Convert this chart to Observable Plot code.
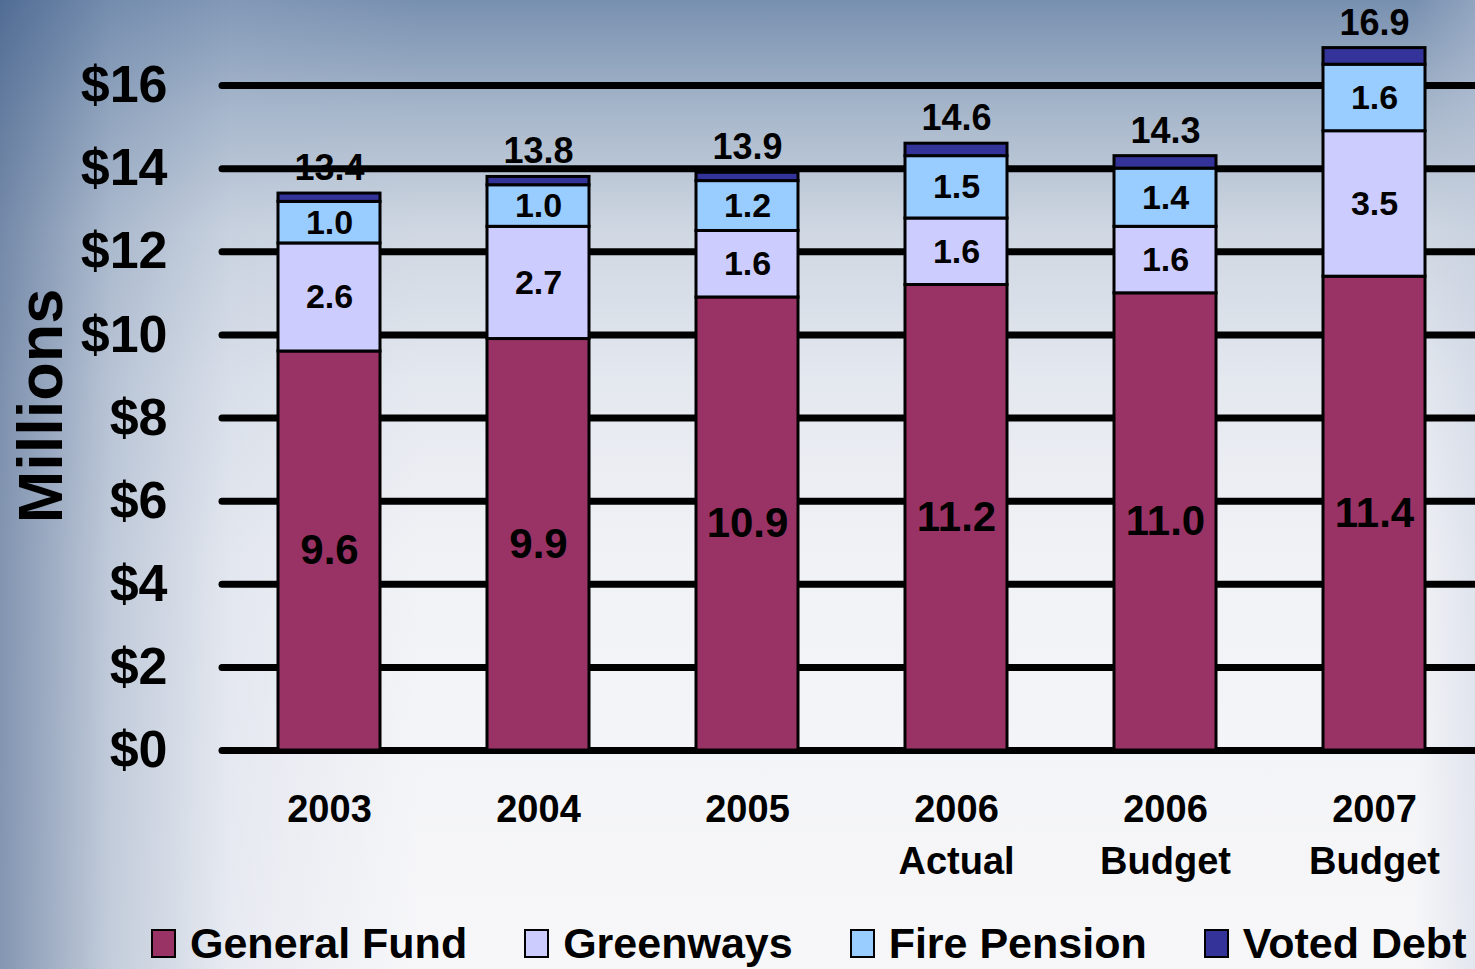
<!DOCTYPE html>
<html>
<head>
<meta charset="utf-8">
<script src="https://cdn.jsdelivr.net/npm/d3@7"></script>
<script src="https://cdn.jsdelivr.net/npm/@observablehq/plot@0.6"></script>
<style>
  html, body { margin: 0; padding: 0; }
  body {
    position: relative;
    width: 1475px; height: 969px; overflow: hidden;
    font-family: "Liberation Sans", Arial, sans-serif; font-weight: bold;
    background:
      linear-gradient(to right, rgba(55,85,130,0.6) 0px, rgba(110,135,170,0.38) 110px, rgba(170,185,210,0.2) 230px, rgba(255,255,255,0) 420px),
      linear-gradient(to left, rgba(190,200,220,0.35) 0px, rgba(255,255,255,0) 60px),
      linear-gradient(to bottom, #7890b0 0px, #a6b6ca 110px, #cfd7e2 230px, #e4e8ef 380px, #f1f2f6 560px, #f7f7f9 969px);
  }
  #chart svg { overflow: visible; display: block; }
  #ylabel {
    position: absolute; left: 40px; top: 406px;
    transform: translate(-50%, -50%) rotate(-90deg);
    font-size: 63px; font-weight: bold; color: #000; white-space: nowrap;
  }
  #legend {
    position: absolute; left: 151px; top: 918px;
    display: flex; align-items: center; gap: 57px;
    height: 50px; line-height: 50px;
    font-size: 43px; font-weight: bold; color: #000;
  }
  #legend .item { display: flex; align-items: center; white-space: nowrap; }
  #legend .sw { width: 21px; height: 25px; border: 2px solid #000; margin-right: 14px; }
</style>
</head>
<body>
<div id="chart"></div>
<div id="legend"></div>
<div id="ylabel">Millions</div>
<script>
const years = ["2003", "2004", "2005", "2006\nActual", "2006\nBudget", "2007\nBudget"];
const generalFund = [9.6, 9.9, 10.9, 11.2, 11.0, 11.4];
const greenways = [2.6, 2.7, 1.6, 1.6, 1.6, 3.5];
const firePension = [1.0, 1.0, 1.2, 1.5, 1.4, 1.6];
const votedDebt = [0.2, 0.2, 0.2, 0.3, 0.3, 0.4];
const totals = [13.4, 13.8, 13.9, 14.6, 14.3, 16.9];
const seriesNames = ["General Fund", "Greenways", "Fire Pension", "Voted Debt"];
const seriesColors = ["#993366", "#CCCCFF", "#99CCFF", "#333399"];
const yTicks = [0, 2, 4, 6, 8, 10, 12, 14, 16];

const seriesValues = [generalFund, greenways, firePension, votedDebt];
const rows = [];
years.forEach((year, i) => {
  seriesNames.forEach((s, k) => {
    rows.push({year, series: s, value: seriesValues[k][i],
      label: s === "Voted Debt" ? "" : seriesValues[k][i].toFixed(1)});
  });
});
const totalRows = years.map((year, i) => ({year, total: totals[i]}));

const font = "Liberation Sans, Arial, sans-serif";

const chart = Plot.plot({
  width: 1475,
  height: 900,
  marginLeft: 222,
  marginRight: 0,
  marginTop: 85,
  marginBottom: 150,
  style: {background: "transparent", fontFamily: font, fontWeight: "bold", color: "#000", overflow: "visible"},
  x: {domain: years, range: [224, 1479], paddingInner: 0.51, paddingOuter: 0.25},
  y: {domain: [0, 16]},
  color: {domain: seriesNames, range: seriesColors},
  marks: [
    Plot.ruleY(yTicks, {stroke: "#000", strokeWidth: 7, strokeLinecap: "round"}),
    Plot.barY(rows, {x: "year", y: "value", fill: "series", stroke: "#000", strokeWidth: 3}),
    Plot.text(rows, Plot.stackY({
      x: "year", y: "value", text: "label",
      fontSize: d => d.series === "General Fund" ? 42 : 34,
      fontWeight: "bold", fill: "#000"
    })),
    Plot.text(totalRows, {x: "year", y: "total", text: d => d.total.toFixed(1), dy: -25, fontSize: 36, fontWeight: "bold", fill: "#000"}),
    Plot.axisY({ticks: yTicks, tickFormat: d => "$" + d, tickSize: 0, tickPadding: 55, fontSize: 52, fontWeight: "bold", label: null}),
    Plot.axisX({tickSize: 0, tickPadding: 35, fontSize: 38, fontWeight: "bold", lineHeight: 1.36, label: null})
  ]
});
document.getElementById("chart").appendChild(chart);

const legend = document.getElementById("legend");
seriesNames.forEach((s, k) => {
  const item = document.createElement("div");
  item.className = "item";
  const sw = document.createElement("div");
  sw.className = "sw";
  sw.style.background = seriesColors[k];
  const t = document.createElement("span");
  t.textContent = s;
  item.appendChild(sw);
  item.appendChild(t);
  legend.appendChild(item);
});
</script>
</body>
</html>
